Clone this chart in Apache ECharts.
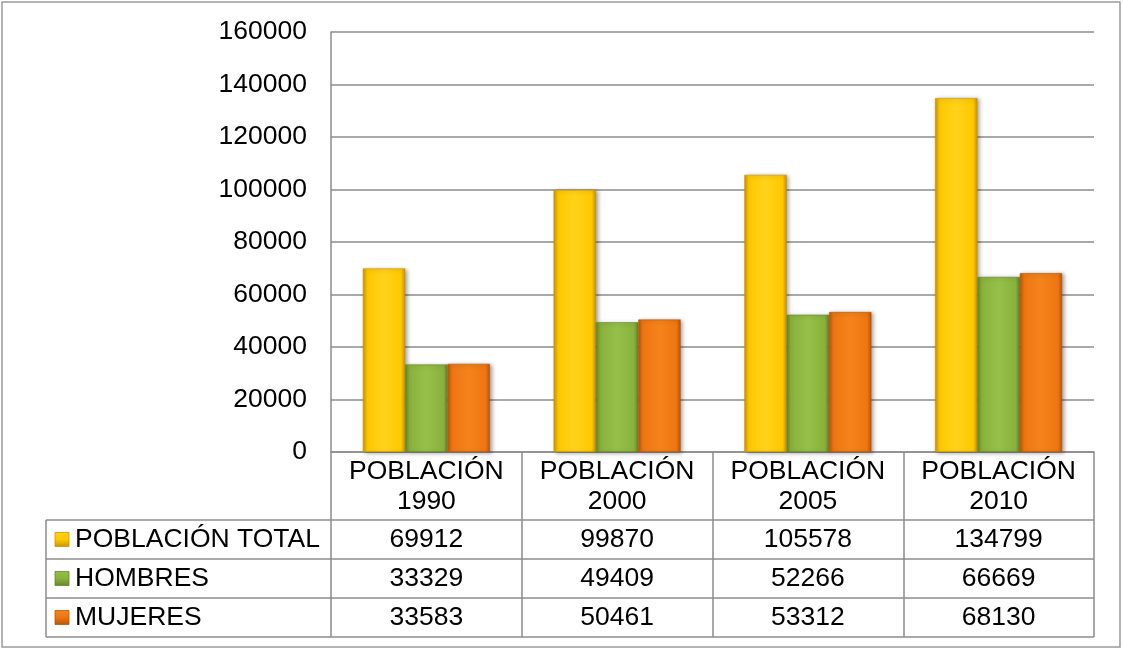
<!DOCTYPE html>
<html>
<head>
<meta charset="utf-8">
<style>
  html, body { margin: 0; padding: 0; background: #ffffff; }
  #chart { width: 1123px; height: 650px; }
</style>
<script src="https://cdn.jsdelivr.net/npm/echarts@6/dist/echarts.min.js"></script>
</head>
<body>
<div id="chart"></div>
<script>
// Census years and population figures
const categories = ['POBLACIÓN\n1990', 'POBLACIÓN\n2000', 'POBLACIÓN\n2005', 'POBLACIÓN\n2010'];
const seriesNames = ['POBLACIÓN TOTAL', 'HOMBRES', 'MUJERES'];
const totalValues = [69912, 99870, 105578, 134799];
const menValues = [33329, 49409, 52266, 66669];
const womenValues = [33583, 50461, 53312, 68130];
const yTicks = { min: 0, max: 160000, interval: 20000 };

// Layout of the plot area and the data table beneath it
const W = 1123, H = 650;
const plotLeft = 331, plotRight = 1094, plotTop = 32, plotBottom = 452;
const tableLeft = 46;
const rowLines = [520, 559, 598, 637];
const FONT = '"Liberation Sans", Arial, sans-serif';
const FS = 26.5;
const lineColor = '#8c8c8c';

// Bevelled fills: darker at the side edges, brighter in the middle
function bevel(light, main, dark) {
  return new echarts.graphic.LinearGradient(0, 0, 1, 0, [
    { offset: 0, color: dark },
    { offset: 0.1, color: main },
    { offset: 0.5, color: light },
    { offset: 0.9, color: main },
    { offset: 1, color: dark }
  ]);
}
const palette = [
  { light: '#FFD21A', main: '#FFC800', dark: '#C99400' },
  { light: '#96C048', main: '#89B23D', dark: '#64862A' },
  { light: '#F5831A', main: '#EE7612', dark: '#B85606' }
];
const seriesData = [totalValues, menValues, womenValues];

const chart = echarts.init(document.getElementById('chart'), null, { renderer: 'canvas' });

const series = seriesData.map((vals, i) => ({
  name: seriesNames[i],
  type: 'bar',
  data: vals,
  barGap: '0%',
  barCategoryGap: '33.4%',
  itemStyle: {
    color: bevel(palette[i].light, palette[i].main, palette[i].dark),
    borderColor: palette[i].dark,
    borderWidth: 0.6,
    shadowColor: 'rgba(0,0,0,0.35)',
    shadowBlur: 4,
    shadowOffsetX: 2,
    shadowOffsetY: 1
  },
  emphasis: { disabled: true }
}));

// Extra category axes that print the table's value rows under each column
const rowCenters = rowLines.slice(0, 3).map((y, i) => (y + rowLines[i + 1]) / 2);
const valueAxes = seriesData.map((vals, i) => ({
  type: 'category',
  gridIndex: 0,
  position: 'bottom',
  offset: rowCenters[i] - 15 - plotBottom,
  data: categories,
  axisLine: { show: false },
  axisTick: { show: false },
  axisLabel: {
    interval: 0,
    margin: 0,
    fontFamily: FONT,
    fontSize: FS,
    lineHeight: 30,
    color: '#000',
    formatter: (v, idx) => String(vals[idx])
  }
}));

// Table frame, row legend keys and row titles
const graphics = [];
graphics.push({
  type: 'rect',
  shape: { x: 2, y: 2, width: 1118, height: 645 },
  style: { fill: null, stroke: '#9a9a9a', lineWidth: 1.5 },
  silent: true
});
rowLines.forEach(y => {
  graphics.push({
    type: 'line',
    shape: { x1: tableLeft, y1: y, x2: plotRight, y2: y },
    style: { stroke: lineColor, lineWidth: 1.5 },
    silent: true
  });
});
graphics.push({
  type: 'line',
  shape: { x1: tableLeft, y1: rowLines[0], x2: tableLeft, y2: rowLines[3] },
  style: { stroke: lineColor, lineWidth: 1.5 },
  silent: true
});
seriesNames.forEach((name, i) => {
  const cy = rowCenters[i];
  graphics.push({
    type: 'rect',
    shape: { x: 55, y: cy - 7, width: 14, height: 14 },
    style: {
      fill: new echarts.graphic.LinearGradient(0, 0, 0, 1, [
        { offset: 0, color: palette[i].light },
        { offset: 0.5, color: palette[i].main },
        { offset: 1, color: palette[i].dark }
      ]),
      stroke: palette[i].dark,
      lineWidth: 0.8
    },
    silent: true
  });
  graphics.push({
    type: 'text',
    x: 75,
    y: cy,
    style: {
      text: name,
      fontFamily: FONT,
      fontSize: FS,
      fill: '#000',
      verticalAlign: 'middle',
      align: 'left'
    },
    silent: true
  });
});

chart.setOption({
  animation: false,
  backgroundColor: '#ffffff',
  grid: {
    left: plotLeft,
    right: W - plotRight,
    top: plotTop,
    bottom: H - plotBottom,
    containLabel: false
  },
  xAxis: [
    {
      type: 'category',
      data: categories,
      position: 'bottom',
      boundaryGap: true,
      axisLine: { show: true, lineStyle: { color: lineColor, width: 1.5 } },
      axisTick: {
        show: true,
        interval: 0,
        alignWithLabel: false,
        inside: false,
        length: rowLines[3] - plotBottom,
        lineStyle: { color: lineColor, width: 1.5 }
      },
      axisLabel: {
        interval: 0,
        margin: 5,
        fontFamily: FONT,
        fontSize: FS,
        lineHeight: 30,
        color: '#000'
      },
      splitLine: { show: false }
    }
  ].concat(valueAxes),
  yAxis: {
    type: 'value',
    min: yTicks.min,
    max: yTicks.max,
    interval: yTicks.interval,
    axisLine: { show: true, lineStyle: { color: lineColor, width: 1.5 } },
    axisTick: { show: false },
    axisLabel: {
      margin: 24,
      fontFamily: FONT,
      fontSize: FS,
      color: '#000',
      formatter: v => String(v)
    },
    splitLine: { show: true, lineStyle: { color: lineColor, width: 1.5 } }
  },
  series: series,
  graphic: { elements: graphics }
});
</script>
</body>
</html>
